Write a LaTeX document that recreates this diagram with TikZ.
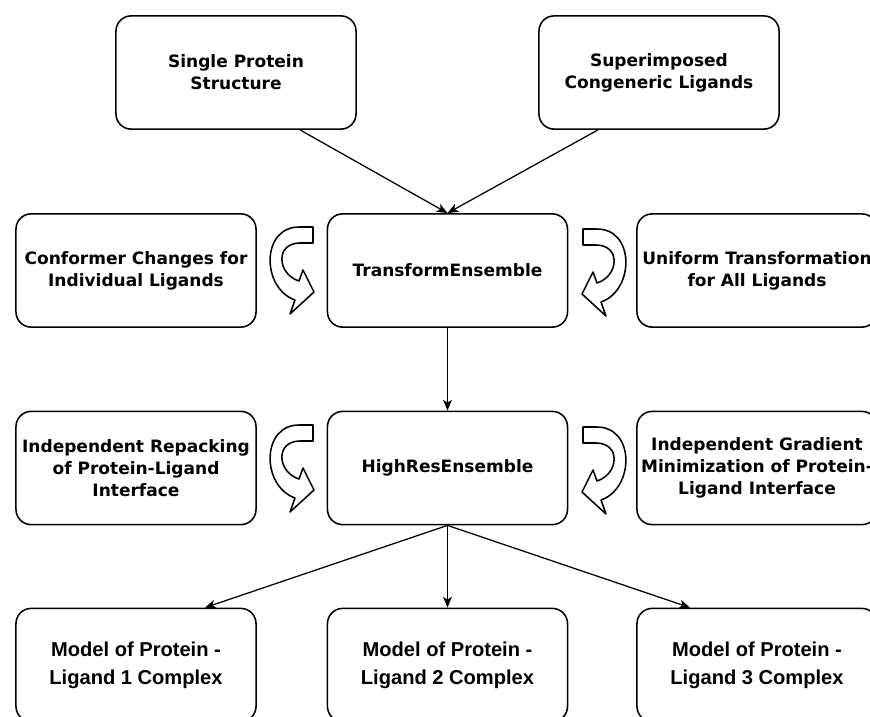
\documentclass[tikz,border=0pt]{standalone}
\usepackage{fontspec}
\usetikzlibrary{calc,arrows.meta}
\newfontfamily\stagefont{DejaVu Sans}
\newfontfamily\modelfont{Liberation Sans}

% one U-turn block arrow, drawn in px units with its corner at (0,0)
\newcommand{\turnarrow}{%
  \draw[fill=white, line width=1.1pt, line join=round]
    (43,17) -- (30,17) .. controls (-9,16) and (-9,78) .. (25,90)
    -- (20,104) -- (44,82) -- (33,60) -- (29,71)
    .. controls (7,64) and (5,33) .. (30,33) -- (43,33) -- cycle;}

\tikzset{
  stage/.style={draw, line width=1.1pt, rounded corners=0.38cm, minimum width=6cm,
    minimum height=2.83cm, align=center, inner xsep=0pt,
    font=\stagefont\bfseries\fontsize{12.1}{15.8}\selectfont},
  model/.style={stage, font=\modelfont\bfseries\fontsize{14.3}{20}\selectfont},
  flow/.style={line width=0.9pt, -{Stealth[length=0.27cm,width=0.22cm,inset=0.07cm]}},
}

\begin{document}
\begin{tikzpicture}[x=0.025cm, y=-0.025cm]
  \useasboundingbox (0,0) rectangle (870,717);
  \clip (0,0) rectangle (870,717);

  % inputs
  \node[stage] (sps) at (236,72.5) {Single Protein\\Structure};
  \node[stage] (sup) at (659,72.5) {Superimposed\\Congeneric Ligands};

  % first stage
  \node[stage] (conf) at (136,270.5) {Conformer Changes for\\Individual Ligands};
  \node[stage] (te) at (447.5,270.5) {TransformEnsemble};
  \node[stage] (unif) at (757,270.5) {Uniform Transformation\\for All Ligands};

  % second stage
  \node[stage] (indep) at (136,468) {Independent Repacking\\of Protein-Ligand\\Interface};
  \node[stage] (hre) at (447.5,468) {HighResEnsemble};
  \node[stage] (grad) at (757,468) {Independent Gradient\\Minimization of Protein-\\Ligand Interface};

  % outputs
  \node[model] (m1) at (136,665) {Model of Protein -\\Ligand 1 Complex};
  \node[model] (m2) at (447.5,665) {Model of Protein -\\Ligand 2 Complex};
  \node[model] (m3) at (757,665) {Model of Protein -\\Ligand 3 Complex};

  \draw[flow] ($(sps.south)+(64,0)$) -- (te.north);
  \draw[flow] ($(sup.south)+(-61,0)$) -- (te.north);
  \draw[flow] (te) -- (hre);
  \draw[flow] (hre.south) -- ($(m1.north)+(69,0)$);
  \draw[flow] (hre.south) -- (m2.north);
  \draw[flow] (hre.south) -- ($(m3.north)+(-67,0)$);

  \begin{scope}[shift={(270,210)}] \turnarrow \end{scope}
  \begin{scope}[shift={(626,212)}, xscale=-1] \turnarrow \end{scope}
  \begin{scope}[shift={(270,408)}] \turnarrow \end{scope}
  \begin{scope}[shift={(626,410)}, xscale=-1] \turnarrow \end{scope}
\end{tikzpicture}
\end{document}
